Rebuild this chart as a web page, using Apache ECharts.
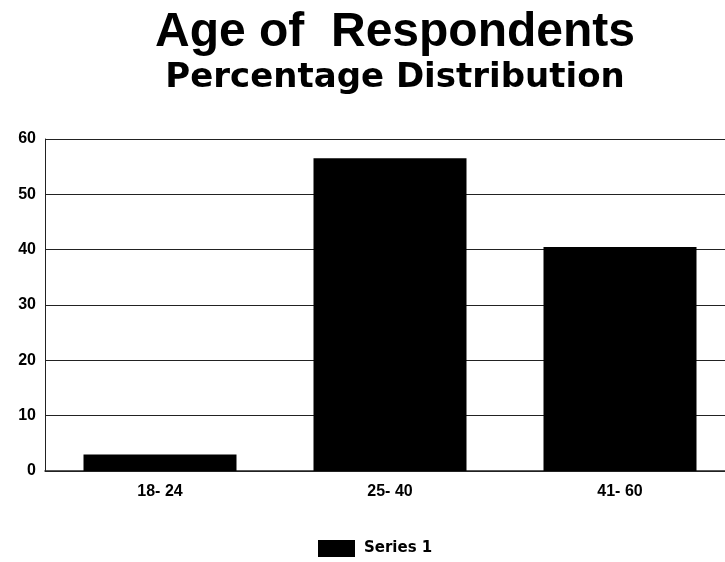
<!DOCTYPE html>
<html><head><meta charset="utf-8">
<script src="https://cdn.jsdelivr.net/npm/echarts@6/dist/echarts.min.js"></script>
<style>html,body{margin:0;padding:0;background:#fff;overflow:hidden}#c{width:735px;height:562px}</style>
</head><body><div id="c"></div>
<script>
const categories = ['18- 24', '25- 40', '41- 60'];
const series1 = [3, 56.5, 40.5];
const seriesName = 'Series 1';
const titleText = 'Age of  Respondents';
const subtitleText = 'Percentage Distribution';

const chart = echarts.init(document.getElementById('c'), null, {renderer: 'canvas'});
const font = 'Liberation Sans, Arial, Helvetica, sans-serif';
const font2 = 'DejaVu Sans, sans-serif';
chart.setOption({
  backgroundColor: '#fff',
  animation: false,
  title: {
    text: titleText,
    subtext: subtitleText,
    left: 390, top: 2, textAlign: 'center',
    itemGap: 0,
    textStyle: {fontFamily: font, fontSize: 48, fontWeight: 'bold', color: '#000', lineHeight: 52},
    subtextStyle: {fontFamily: font2, fontSize: 34, fontWeight: 'bold', color: '#000', lineHeight: 38}
  },
  legend: {
    top: 540, left: 318, padding: 0,
    icon: 'rect',
    itemWidth: 37, itemHeight: 17, itemGap: 10,
    textStyle: {fontFamily: font2, fontSize: 15, fontWeight: 'bold', color: '#000', padding: [0,0,0,4]},
    data: [seriesName]
  },
  grid: {left: 45, right: 0, top: 139, bottom: 91, containLabel: false},
  xAxis: {
    type: 'category', data: categories,
    axisLine: {show: true, lineStyle: {color: '#222', width: 1.5}},
    axisTick: {show: false},
    axisLabel: {fontFamily: font, fontSize: 16, fontWeight: 'bold', color: '#000', margin: 13}
  },
  yAxis: {
    type: 'value', min: 0, max: 60, interval: 10,
    axisLine: {show: true, lineStyle: {color: '#222', width: 1}},
    axisTick: {show: false},
    splitLine: {lineStyle: {color: '#222', width: 1}},
    axisLabel: {fontFamily: font, fontSize: 16, fontWeight: 'bold', color: '#000', margin: 9}
  },
  series: [{
    name: seriesName, type: 'bar', data: series1,
    barWidth: 153,
    itemStyle: {color: '#000'}
  }]
});
</script></body></html>
